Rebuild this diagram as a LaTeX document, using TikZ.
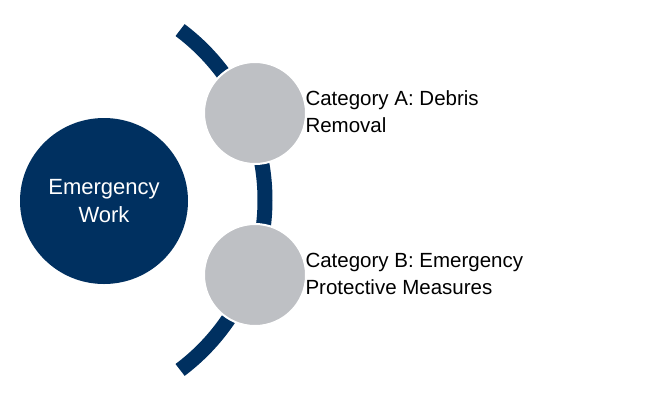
\documentclass[tikz,border=0pt]{standalone}
\usepackage{fontspec}
\setmainfont{Liberation Sans}
\definecolor{navy}{RGB}{0,48,96}
\definecolor{greyfill}{RGB}{190,192,196}
\tikzset{
  bigcircle/.style={ellipse, fill=navy, minimum width=168pt, minimum height=166pt, text=white, align=center, font=\fontsize{22}{28}\selectfont},
  smallcircle/.style={circle, fill=greyfill, draw=white, line width=2pt, minimum size=102pt},
  label/.style={anchor=west, align=left, font=\fontsize{20.5}{27}\selectfont}
}
\usetikzlibrary{shapes.geometric}
\begin{document}
\begin{tikzpicture}[x=1pt,y=-1pt]
    \useasboundingbox (0,0) rectangle (650,400);
    % arc
    \draw[navy, line width=15pt] (52.5,200) ++(-53.1:212.5) arc[start angle=-53.1, end angle=53.1, radius=212.5];
    \node[bigcircle] (work) at (104,201) {Emergency\\Work};
    \node[smallcircle] (catA) at (255,113) {};
    \node[smallcircle] (catB) at (255,275) {};
    \node[label] (labA) at (302,112) {Category A: Debris\\Removal};
    \node[label] (labB) at (302,274) {Category B: Emergency\\Protective Measures};
\end{tikzpicture}
\end{document}
